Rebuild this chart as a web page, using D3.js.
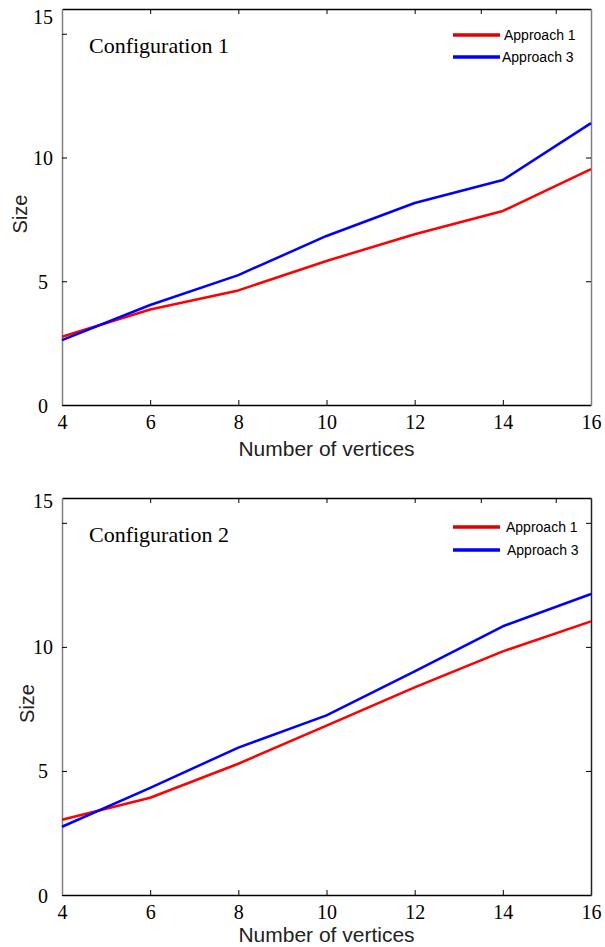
<!DOCTYPE html>
<html>
<head>
<meta charset="utf-8">
<script src="https://cdn.jsdelivr.net/npm/d3@7"></script>
<style>
  html, body { margin: 0; padding: 0; background: #fff; }
  svg { display: block; }
</style>
</head>
<body>
<svg id="chart" width="605" height="947"></svg>
<script>
// ---- data ----
const vertices = [4, 6, 8, 10, 12, 14, 16];
const yTickValues = [0, 5, 10, 15];
const topTickPositions = [6, 8, 10, 12, 13.5, 15.2];
const seriesNames = ["Approach 1", "Approach 3"];
const config1Approach1 = [2.76, 3.86, 4.63, 5.82, 6.90, 7.84, 9.53];
const config1Approach3 = [2.62, 4.04, 5.25, 6.83, 8.16, 9.09, 11.39];
const config2Approach1 = [3.03, 3.92, 5.29, 6.83, 8.37, 9.82, 11.03];
const config2Approach3 = [2.75, 4.32, 5.94, 7.24, 9.01, 10.83, 12.13];
const panelTitles = ["Configuration 1", "Configuration 2"];
const xTitle = "Number of vertices";
const yTitle = "Size";

// ---- layout ----
const colors = ["#ff0000", "#0000ff"];
const legendColors = ["#e00000", "#0000ff"];
const panels = [
  { top: 9, bottom: 405, title: panelTitles[0], series: [config1Approach1, config1Approach3],
    rightTicks: [5, 10], rightColor: "#808080", label15dy: -17, yTitleX: 20, xTitleDy: 51,
    legendY: [35, 57], legendTextX: [504, 502] },
  { top: 498, bottom: 895, title: panelTitles[1], series: [config2Approach1, config2Approach3],
    rightTicks: [5, 10, 15], rightColor: "#222", label15dy: -22, yTitleX: 27, xTitleDy: 47,
    legendY: [527, 550], legendTextX: [506, 507] }
];
const left = 62, right = 591;
const svg = d3.select("#chart");
const serif = "Liberation Serif, Times New Roman, serif";
const sans = "Liberation Sans, Arial, sans-serif";

panels.forEach(p => {
  const x = d3.scaleLinear().domain([4, 16]).range([left, right]);
  const y = d3.scaleLinear().domain([0, 16]).range([p.bottom, p.top]);
  const g = svg.append("g");

  // bottom axis
  const bx = g.append("g").attr("transform", `translate(0,${p.bottom})`)
    .call(d3.axisBottom(x).tickValues(vertices).tickSizeInner(-5).tickSizeOuter(0).tickPadding(0));
  bx.attr("font-family", serif).attr("font-size", 20);
  bx.select(".domain").attr("stroke", "#000").attr("stroke-width", 1.5);
  bx.selectAll(".tick line").attr("stroke", "#000");
  bx.selectAll(".tick text").style("font-family", serif).style("font-size", "20px")
    .attr("fill", "#000").attr("y", 0).attr("dy", 24);

  // top axis (ticks only)
  const tx = g.append("g").attr("transform", `translate(0,${p.top})`)
    .call(d3.axisTop(x).tickValues(topTickPositions).tickSizeInner(-5).tickSizeOuter(0).tickFormat(""));
  tx.select(".domain").attr("stroke", "#000").attr("stroke-width", 1.5);
  tx.selectAll(".tick line").attr("stroke", "#000");

  // left axis
  const ly = g.append("g").attr("transform", `translate(${left},0)`)
    .call(d3.axisLeft(y).tickValues(yTickValues).tickSizeInner(-5).tickSizeOuter(0).tickPadding(0));
  ly.attr("font-family", serif).attr("font-size", 20);
  ly.select(".domain").attr("stroke", "#808080").attr("stroke-width", 1.5);
  ly.selectAll(".tick line").attr("stroke", "#000");
  ly.selectAll(".tick text").style("font-family", serif).style("font-size", "20px")
    .attr("fill", "#000").attr("text-anchor", "middle").attr("x", -19)
    .attr("dy", d => d === 15 ? (p.label15dy + 7) + "px" : "0.35em");

  // right axis (ticks only)
  const ry = g.append("g").attr("transform", `translate(${right},0)`)
    .call(d3.axisRight(y).tickValues(p.rightTicks).tickSizeInner(-5).tickSizeOuter(0).tickFormat(""));
  ry.select(".domain").attr("stroke", p.rightColor).attr("stroke-width", 1.5);
  ry.selectAll(".tick line").attr("stroke", "#000");

  // lines
  const line = d3.line().x((d, i) => x(vertices[i])).y(d => y(d));
  p.series.forEach((s, k) => {
    g.append("path").datum(s).attr("d", line)
      .attr("fill", "none").attr("stroke", colors[k]).attr("stroke-width", 2.5)
      .attr("stroke-linejoin", "round");
  });

  // legend
  seriesNames.forEach((name, k) => {
    g.append("line").attr("x1", 453).attr("x2", 500)
      .attr("y1", p.legendY[k]).attr("y2", p.legendY[k])
      .attr("stroke", legendColors[k]).attr("stroke-width", 3.5);
    g.append("text").attr("x", p.legendTextX[k]).attr("y", p.legendY[k] + 5)
      .style("font-family", sans).style("font-size", "14px").attr("fill", "#000").text(name);
  });

  // panel title
  g.append("text").attr("x", 89).attr("y", p.top + 44)
    .style("font-family", serif).style("font-size", "22px").attr("fill", "#000").text(p.title);

  // axis titles
  g.append("text").attr("x", (left + right) / 2).attr("y", p.bottom + p.xTitleDy)
    .attr("text-anchor", "middle").style("font-family", sans).style("font-size", "21px")
    .attr("fill", "#222").text(xTitle);
  const cy = (p.top + p.bottom) / 2 + 7;
  g.append("text").attr("transform", `translate(${p.yTitleX + 7},${cy}) rotate(-90)`)
    .attr("text-anchor", "middle").style("font-family", sans).style("font-size", "20px")
    .attr("fill", "#222").text(yTitle);
});
</script>
</body>
</html>
